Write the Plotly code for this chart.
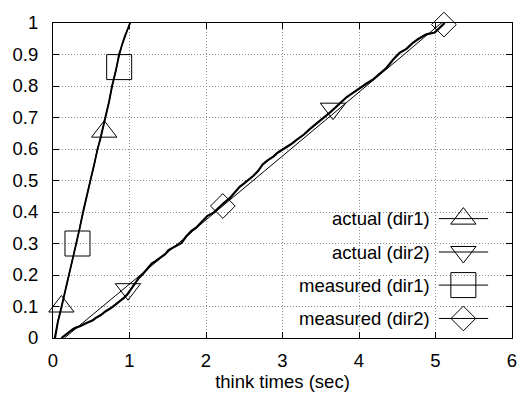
import plotly.graph_objects as go

# ---------------- data ----------------
act1_x = [0.02, 0.06, 0.11, 0.16, 0.20, 0.25, 0.30, 0.35, 0.39, 0.44, 0.49, 0.54, 0.585, 0.615,
          0.65, 0.69, 0.73, 0.77, 0.82, 0.865, 0.90, 0.94, 0.98, 1.01]
act1_y = [0.0, 0.05, 0.10, 0.15, 0.20, 0.25, 0.30, 0.35, 0.40, 0.45, 0.50, 0.55, 0.60, 0.625,
          0.66, 0.70, 0.75, 0.80, 0.85, 0.90, 0.93, 0.96, 0.985, 1.0]
meas1_x = [0.03, 0.065, 0.115, 0.165, 0.205, 0.255, 0.305, 0.35, 0.395, 0.445, 0.49, 0.54, 0.58,
           0.62, 0.655, 0.69, 0.735, 0.775, 0.825, 0.86, 0.905, 0.945, 0.985, 1.005]
meas1_y = [0.0, 0.05, 0.10, 0.15, 0.20, 0.25, 0.30, 0.35, 0.40, 0.45, 0.50, 0.55, 0.60, 0.63,
           0.665, 0.70, 0.75, 0.80, 0.85, 0.90, 0.93, 0.96, 0.985, 1.0]

act2_x = [0.11, 0.16, 0.22, 0.26, 0.30, 0.36, 0.43, 0.48, 0.52, 0.56, 0.62, 0.69, 0.74, 0.78, 0.82,
          0.88, 0.93, 0.97, 1.00, 1.06, 1.12, 1.18, 1.24, 1.29, 1.34, 1.40, 1.47, 1.51, 1.58, 1.68,
          1.74, 1.81, 1.88, 1.96, 2.02, 2.10, 2.16, 2.24, 2.31, 2.38, 2.44, 2.49, 2.55, 2.62, 2.68,
          2.74, 2.81, 2.88, 2.94, 3.02, 3.11, 3.18, 3.28, 3.36, 3.45, 3.54, 3.63, 3.72, 3.84, 3.92,
          4.02, 4.10, 4.19, 4.27, 4.36, 4.45, 4.53, 4.62, 4.70, 4.78, 4.88, 4.99, 5.05, 5.12]
act2_y = [0.0, 0.010, 0.020, 0.028, 0.033, 0.038, 0.047, 0.052, 0.056, 0.064, 0.072, 0.085, 0.092,
          0.099, 0.107, 0.118, 0.128, 0.138, 0.148, 0.168, 0.190, 0.205, 0.222, 0.236, 0.244, 0.256,
          0.267, 0.279, 0.288, 0.302, 0.322, 0.340, 0.352, 0.372, 0.388, 0.398, 0.413, 0.430, 0.444,
          0.462, 0.480, 0.489, 0.500, 0.515, 0.530, 0.551, 0.565, 0.576, 0.589, 0.600, 0.615, 0.628,
          0.646, 0.664, 0.682, 0.697, 0.718, 0.738, 0.765, 0.778, 0.796, 0.808, 0.822, 0.838, 0.858,
          0.885, 0.905, 0.918, 0.936, 0.950, 0.964, 0.970, 0.985, 1.0]
meas2_x = [0.15, 0.60, 1.00, 1.50, 2.00, 2.50, 3.00, 3.50, 4.00, 4.50, 5.05, 5.08]
meas2_y = [0.0, 0.090, 0.170, 0.272, 0.375, 0.476, 0.578, 0.680, 0.780, 0.882, 0.995, 1.0]

# points where the symbols sit on each curve
act1_mx = [0.11, 0.67]
act1_my = [0.10, 0.655]
act2_mx = [0.98, 3.66]
act2_my = [0.155, 0.728]
meas1_mx = [0.32, 0.865]
meas1_my = [0.30, 0.86]
meas2_mx = [2.22, 5.11]
meas2_my = [0.419, 0.995]

legend_labels = ["actual (dir1)", "actual (dir2)", "measured (dir1)", "measured (dir2)"]
legend_symbols = ["triangle-up-open", "triangle-down-open", "square-open", "diamond-open"]
legend_sizes = [22, 22, 25, 19]

x_ticks = [0, 1, 2, 3, 4, 5, 6]
y_ticks = [0, 0.1, 0.2, 0.3, 0.4, 0.5, 0.6, 0.7, 0.8, 0.9, 1]

FONT = "Liberation Sans, Arial, Helvetica, sans-serif"
FS = 18.5

fig = go.Figure()

def curve(x, y, w):
    fig.add_trace(go.Scatter(x=x, y=y, mode="lines", line=dict(color="black", width=w),
                             showlegend=False, hoverinfo="skip"))

def marks(x, y, sym, size):
    fig.add_trace(go.Scatter(x=x, y=y, mode="markers", cliponaxis=False,
                             marker=dict(symbol=sym, size=size, color="black",
                                         line=dict(color="black", width=1)),
                             showlegend=False, hoverinfo="skip"))

curve(act1_x, act1_y, 1.5)
curve(meas1_x, meas1_y, 1.5)
curve(act2_x, act2_y, 2.2)
curve(meas2_x, meas2_y, 1)
marks(act1_mx, act1_my, legend_symbols[0], legend_sizes[0])
marks(act2_mx, act2_my, legend_symbols[1], legend_sizes[1])
marks(meas1_mx, meas1_my, legend_symbols[2], legend_sizes[2])
marks(meas2_mx, meas2_my, legend_symbols[3], legend_sizes[3])

# ---------- gnuplot-style key (text left, sample right) ----------
row_y = [0.379, 0.273, 0.168, 0.062]
for lab, sym, sz, ry in zip(legend_labels, legend_symbols, legend_sizes, row_y):
    fig.add_trace(go.Scatter(x=[0.8405, 0.948], y=[ry, ry], xaxis="x2", yaxis="y2",
                             mode="lines", line=dict(color="black", width=1),
                             showlegend=False, hoverinfo="skip"))
    fig.add_trace(go.Scatter(x=[0.894], y=[ry], xaxis="x2", yaxis="y2", mode="markers",
                             cliponaxis=False,
                             marker=dict(symbol=sym, size=sz, color="black",
                                         line=dict(color="black", width=1)),
                             showlegend=False, hoverinfo="skip"))
    fig.add_annotation(text=lab, xref="paper", yref="paper", x=0.826, y=ry,
                       xanchor="right", yanchor="middle", showarrow=False,
                       font=dict(family=FONT, size=FS, color="black"))

# opaque key box hiding the grid
fig.add_shape(type="rect", xref="paper", yref="paper", x0=0.442, x1=0.998, y0=0.002, y1=0.432,
              fillcolor="white", line=dict(width=0), layer="between")

axis_common = dict(showline=True, linecolor="black", linewidth=1, mirror="allticks",
                   ticks="inside", ticklen=6, tickcolor="black", tickwidth=1,
                   showgrid=True, gridcolor="#8c8c8c", griddash="1px,2px", gridwidth=1,
                   zeroline=False, tickfont=dict(family=FONT, size=FS, color="black"))

fig.update_layout(
    width=529, height=403,
    margin=dict(l=53, r=12, t=16, b=65),
    paper_bgcolor="white", plot_bgcolor="white",
    font=dict(family=FONT, size=FS, color="black"),
    showlegend=False,
    xaxis=dict(range=[0, 6], tickvals=x_ticks, ticklabelstandoff=6,
               title=dict(text="think times (sec)", font=dict(family=FONT, size=FS), standoff=4),
               **axis_common),
    yaxis=dict(range=[0, 1], tickvals=y_ticks, ticklabelstandoff=10, **axis_common),
    xaxis2=dict(range=[0, 1], overlaying="x", visible=False, fixedrange=True),
    yaxis2=dict(range=[0, 1], overlaying="y", visible=False, fixedrange=True),
)

fig.write_html("out.html")
